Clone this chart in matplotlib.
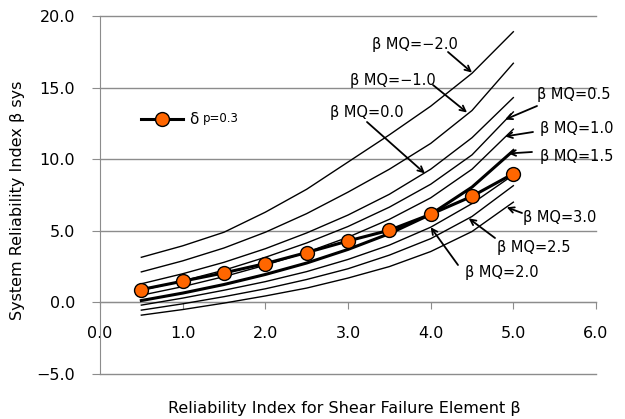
import matplotlib
matplotlib.use("Agg")
import matplotlib.pyplot as plt
from matplotlib.ticker import MultipleLocator, FuncFormatter

# element reliability index (x) and system reliability index curves per beta_MQ
beta = [0.5, 1.0, 1.5, 2.0, 2.5, 3.0, 3.5, 4.0, 4.5, 5.0]

mq_m20 = [3.15, 3.95, 4.90, 6.30, 7.90, 9.80, 11.70, 13.70, 16.00, 18.90]
mq_m10 = [2.13, 2.90, 3.80, 4.90, 6.20, 7.70, 9.30, 11.10, 13.40, 16.70]
mq_00 = [1.30, 2.00, 2.80, 3.75, 4.85, 6.10, 7.55, 9.30, 11.50, 14.30]
mq_05 = [0.85, 1.50, 2.25, 3.15, 4.15, 5.30, 6.65, 8.25, 10.30, 13.30]
mq_10 = [0.50, 1.10, 1.80, 2.60, 3.50, 4.55, 5.80, 7.30, 9.30, 12.10]
mq_15 = [0.13, 0.65, 1.25, 1.95, 2.75, 3.70, 4.80, 6.15, 8.05, 10.60]
mq_20 = [-0.19, 0.30, 0.85, 1.45, 2.15, 3.00, 4.00, 5.25, 6.90, 8.90]
mq_25 = [-0.54, -0.10, 0.40, 0.95, 1.60, 2.35, 3.30, 4.45, 6.00, 8.15]
mq_30 = [-0.89, -0.50, -0.05, 0.45, 1.00, 1.70, 2.50, 3.55, 4.95, 7.00]

# delta_p = 0.3 series
dp03 = [0.90, 1.48, 2.06, 2.71, 3.48, 4.29, 5.04, 6.15, 7.41, 8.99]

curves = [mq_m20, mq_m10, mq_00, mq_05, mq_10, mq_15, mq_20, mq_25, mq_30]
curve_labels = ['\u03b2 MQ=\u22122.0', '\u03b2 MQ=\u22121.0', '\u03b2 MQ=0.0',
                '\u03b2 MQ=0.5', '\u03b2 MQ=1.0', '\u03b2 MQ=1.5',
                '\u03b2 MQ=2.0', '\u03b2 MQ=2.5', '\u03b2 MQ=3.0']

plt.rcParams['font.family'] = ['DejaVu Sans']
W, H = 625, 419
fig = plt.figure(figsize=(W / 100, H / 100), dpi=100)
ax = fig.add_axes([100 / W, 45 / H, 496 / W, 358 / H])

gray = '#8c8c8c'
for i, c in enumerate(curves):
    lw = 2.2 if curve_labels[i].endswith('1.5') else 1.0
    ax.plot(beta, c, color='black', lw=lw, zorder=3)

line, = ax.plot(beta, dp03, color='black', lw=2.2, marker='o', markersize=10,
                markerfacecolor='#ff6600', markeredgecolor='black',
                markeredgewidth=1.0, zorder=4)

ax.set_xlim(0, 6)
ax.set_ylim(-5, 20)
ax.xaxis.set_major_locator(MultipleLocator(1))
ax.yaxis.set_major_locator(MultipleLocator(5))
fmt = FuncFormatter(lambda v, p: ('%.1f' % v).replace('-', '\u2212'))
ax.xaxis.set_major_formatter(fmt)
ax.yaxis.set_major_formatter(fmt)

ax.grid(axis='y', color=gray, lw=1.0)
for gl in ax.yaxis.get_gridlines():
    gl.set_clip_on(False)
ax.set_axisbelow(True)
for s in ['top', 'right']:
    ax.spines[s].set_visible(False)
ax.spines['bottom'].set_position(('data', 0))
ax.spines['bottom'].set_color(gray)
ax.spines['left'].set_color(gray)
ax.tick_params(axis='x', direction='out', length=5, color=gray, pad=12,
               labelsize=11.5)
ax.tick_params(axis='y', direction='out', length=6, color=gray, pad=12,
               labelsize=11.5)

# labels
fig.text(344 / W, 1 - 408 / H, 'Reliability Index for Shear Failure Element \u03b2',
         ha='center', va='center', fontsize=11.5)
fig.text(18 / W, 1 - 200 / H, 'System Reliability Index \u03b2 sys',
         ha='center', va='center', rotation=90, fontsize=11.5)

# legend
ax.legend([line], ['\u03b4'], loc='center left', bbox_to_anchor=(0.055, 0.71),
          frameon=False, handlelength=2.75, handletextpad=0.4, fontsize=11)
fig.text(203 / W, 1 - 118 / H, 'p=0.3', ha='left', va='center', fontsize=8.5)

# annotations: text left (px), text center y (px), arrow tail (px), arrow tip (data)
notes = [
    (372, 45, (448, 52), (4.50, 16.05)),
    (350, 80, (433, 85), (4.44, 13.26)),
    (330, 113, (367, 122), (3.93, 9.01)),
    (537, 95, (537, 106), (4.90, 12.77)),
    (540, 128, (533, 132), (4.90, 11.59)),
    (540, 157, (532, 152), (4.94, 10.40)),
    (465, 272, (458, 265), (4.00, 5.25)),
    (497, 247, (495, 238), (4.46, 5.87)),
    (523, 217, (522, 213), (4.92, 6.64)),
]
for lab, (tx, ty, tail, tip) in zip(curve_labels, notes):
    fig.text(tx / W, 1 - ty / H, lab, ha='left', va='center', fontsize=10.5)
    ax.annotate('', xy=tip, xycoords='data', xytext=(tail[0], H - tail[1]),
                textcoords='figure pixels',
                arrowprops=dict(arrowstyle='->', color='black', lw=1.3,
                                shrinkA=0, shrinkB=0))

fig.savefig('out.png', dpi=100)
